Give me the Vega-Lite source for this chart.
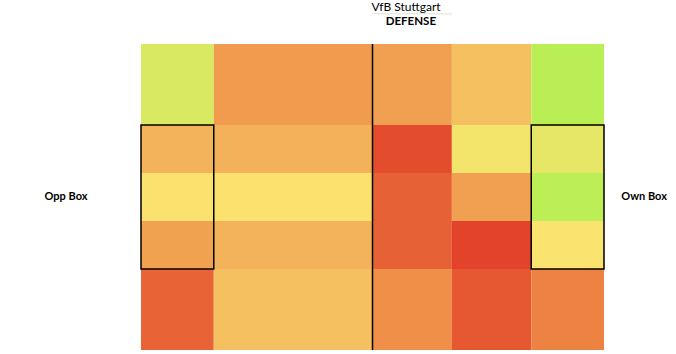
{
  "$schema": "https://vega.github.io/schema/vega-lite/v6.json",
  "width": 463,
  "height": 306,
  "autosize": {"type": "none"},
  "padding": {"left": 141, "top": 44, "right": 72, "bottom": 4},
  "config": {"view": {"stroke": null}, "font": "Lato"},
  "datasets": {
    "cells": [
      {"x0": 0, "x1": 16.5, "y0": 0, "y1": 18, "value": 12},
      {"x0": 16.5, "x1": 52.5, "y0": 0, "y1": 18, "value": 67},
      {"x0": 52.5, "x1": 70.5, "y0": 0, "y1": 18, "value": 63},
      {"x0": 70.5, "x1": 88.5, "y0": 0, "y1": 18, "value": 43},
      {"x0": 88.5, "x1": 105, "y0": 0, "y1": 18, "value": 0},
      {"x0": 0, "x1": 16.5, "y0": 18, "y1": 28.67, "value": 50},
      {"x0": 16.5, "x1": 52.5, "y0": 18, "y1": 28.67, "value": 51},
      {"x0": 52.5, "x1": 70.5, "y0": 18, "y1": 28.67, "value": 97},
      {"x0": 70.5, "x1": 88.5, "y0": 18, "y1": 28.67, "value": 22},
      {"x0": 88.5, "x1": 105, "y0": 18, "y1": 28.67, "value": 17},
      {"x0": 0, "x1": 16.5, "y0": 28.67, "y1": 39.33, "value": 26},
      {"x0": 16.5, "x1": 52.5, "y0": 28.67, "y1": 39.33, "value": 26},
      {"x0": 52.5, "x1": 70.5, "y0": 28.67, "y1": 39.33, "value": 90},
      {"x0": 70.5, "x1": 88.5, "y0": 28.67, "y1": 39.33, "value": 63},
      {"x0": 88.5, "x1": 105, "y0": 28.67, "y1": 39.33, "value": 1},
      {"x0": 0, "x1": 16.5, "y0": 39.33, "y1": 50, "value": 62},
      {"x0": 16.5, "x1": 52.5, "y0": 39.33, "y1": 50, "value": 50},
      {"x0": 52.5, "x1": 70.5, "y0": 39.33, "y1": 50, "value": 90},
      {"x0": 70.5, "x1": 88.5, "y0": 39.33, "y1": 50, "value": 100},
      {"x0": 88.5, "x1": 105, "y0": 39.33, "y1": 50, "value": 25},
      {"x0": 0, "x1": 16.5, "y0": 50, "y1": 68, "value": 89},
      {"x0": 16.5, "x1": 52.5, "y0": 50, "y1": 68, "value": 43},
      {"x0": 52.5, "x1": 70.5, "y0": 50, "y1": 68, "value": 75},
      {"x0": 70.5, "x1": 88.5, "y0": 50, "y1": 68, "value": 93},
      {"x0": 88.5, "x1": 105, "y0": 50, "y1": 68, "value": 79}
    ],
    "boxes": [
      {"x0": 0, "x1": 16.5, "y0": 18, "y1": 50},
      {"x0": 88.5, "x1": 105, "y0": 18, "y1": 50}
    ],
    "halfway": [{"x": 52.5, "y0": 0, "y1": 68}],
    "underline": [{"x0": 52.5, "x1": 70.5, "y": -6.7}],
    "title": [{"x": 60.1, "y": -8.3, "label": "VfB Stuttgart"}],
    "subtitle": [{"x": 61.2, "y": -4.9, "label": "DEFENSE"}],
    "sides": [
      {"x": -17.0, "y": 34, "label": "Opp Box"},
      {"x": 114.1, "y": 34, "label": "Own Box"}
    ]
  },
  "layer": [
    {
      "data": {"name": "cells"},
      "mark": {"type": "rect", "clip": false},
      "encoding": {
        "x": {"field": "x0", "type": "quantitative", "scale": {"domain": [0, 105], "nice": false, "zero": false}, "axis": null},
        "x2": {"field": "x1"},
        "y": {"field": "y0", "type": "quantitative", "scale": {"domain": [0, 68], "nice": false, "zero": false, "reverse": true}, "axis": null},
        "y2": {"field": "y1"},
        "color": {
          "field": "value",
          "type": "quantitative",
          "scale": {"domain": [0, 25, 50, 75, 100], "range": ["#b9ee55", "#fbe36f", "#f3b35a", "#ef8f48", "#e2432a"], "interpolate": "rgb"},
          "legend": null
        }
      }
    },
    {
      "data": {"name": "boxes"},
      "mark": {"type": "rect", "fill": null, "fillOpacity": 0, "stroke": "black", "strokeWidth": 1.5, "clip": false},
      "encoding": {
        "x": {"field": "x0", "type": "quantitative"},
        "x2": {"field": "x1"},
        "y": {"field": "y0", "type": "quantitative"},
        "y2": {"field": "y1"}
      }
    },
    {
      "data": {"name": "halfway"},
      "mark": {"type": "rule", "color": "black", "strokeWidth": 1.5, "clip": false},
      "encoding": {
        "x": {"field": "x", "type": "quantitative"},
        "y": {"field": "y0", "type": "quantitative"},
        "y2": {"field": "y1"}
      }
    },
    {
      "data": {"name": "underline"},
      "mark": {"type": "rule", "color": "#dbe6d0", "strokeWidth": 1, "clip": false},
      "encoding": {
        "x": {"field": "x0", "type": "quantitative"},
        "x2": {"field": "x1"},
        "y": {"field": "y", "type": "quantitative"}
      }
    },
    {
      "data": {"name": "title"},
      "mark": {"type": "text", "fontSize": 12, "color": "black", "clip": false, "baseline": "middle", "align": "center"},
      "encoding": {
        "x": {"field": "x", "type": "quantitative"},
        "y": {"field": "y", "type": "quantitative"},
        "text": {"field": "label"}
      }
    },
    {
      "data": {"name": "subtitle"},
      "mark": {"type": "text", "fontSize": 11.5, "fontWeight": "bold", "color": "black", "clip": false, "baseline": "middle", "align": "center"},
      "encoding": {
        "x": {"field": "x", "type": "quantitative"},
        "y": {"field": "y", "type": "quantitative"},
        "text": {"field": "label"}
      }
    },
    {
      "data": {"name": "sides"},
      "mark": {"type": "text", "fontSize": 11, "fontWeight": "bold", "color": "black", "clip": false, "baseline": "middle", "align": "center"},
      "encoding": {
        "x": {"field": "x", "type": "quantitative"},
        "y": {"field": "y", "type": "quantitative"},
        "text": {"field": "label"}
      }
    }
  ]
}
